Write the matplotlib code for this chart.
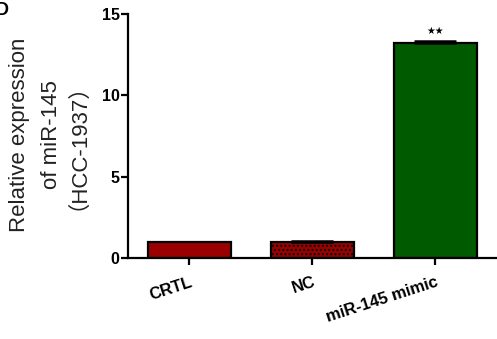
import matplotlib
matplotlib.use("Agg")
import matplotlib.pyplot as plt

categories = ["CRTL", "NC", "miR-145 mimic"]
values = [1.0, 0.98, 13.2]
errors = [0.0, 0.07, 0.12]
colors = ["#9B0000", "#9B0000", "#005A00"]
hatches = [None, "....", None]
yticks = [0, 5, 10, 15]
ylabel_lines = ["Relative expression", "of miR-145", "（HCC-1937）"]

plt.rcParams['font.family'] = ['Liberation Sans', 'DejaVu Sans']
plt.rcParams['hatch.color'] = '#5a0000'
fig = plt.figure(figsize=(4.97, 3.39), dpi=100)
ax = fig.add_axes([0.2575, 0.239, 0.7425, 0.72])

x = range(len(categories))
for i, (v, e, c, h) in enumerate(zip(values, errors, colors, hatches)):
    ax.bar(i, v, width=0.67, color=c, edgecolor='black', linewidth=1.6,
           hatch=h, zorder=2)
    if e > 0:
        ax.errorbar(i, v, yerr=[[0], [e]], fmt='none', ecolor='black',
                    elinewidth=1.5, capsize=15, capthick=1.8, zorder=3)

ax.text(2, values[2] + 0.45, "★★", ha='center', va='bottom', fontsize=7,
        family='DejaVu Sans')

ax.set_xlim(-0.5, 2.5)
ax.set_ylim(0, 15)
ax.set_yticks(yticks)
ax.set_yticklabels([str(t) for t in yticks], fontsize=11.5, fontweight='bold')
ax.set_xticks(list(x))
ax.set_xticklabels(categories, fontsize=12, fontweight='bold', rotation=18,
                   ha='right', rotation_mode='anchor')
for s in ['top', 'right']:
    ax.spines[s].set_visible(False)
for s in ['left', 'bottom']:
    ax.spines[s].set_linewidth(1.6)
ax.tick_params(axis='both', direction='out', width=1.6, length=5)
ax.tick_params(axis='y', pad=1)
ax.tick_params(axis='x', pad=7)

for xc, line in zip([0.040, 0.104, 0.134], ylabel_lines):
    fig.text(xc, 0.602, line, rotation=90, ha='center', va='center',
             fontsize=16, color='#222222',
             family=['Liberation Sans', 'Noto Sans CJK SC'])

fig.text(-0.008, 0.995, "D", fontsize=13, fontweight='bold', va='top', ha='left')

fig.savefig("out.png", dpi=100)
